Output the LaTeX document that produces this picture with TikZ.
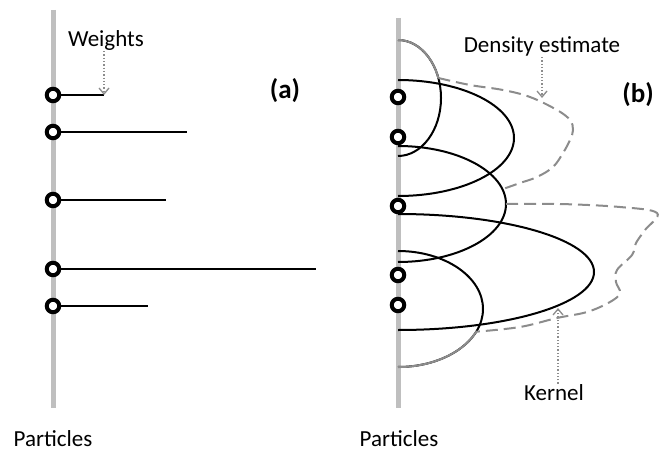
\documentclass[tikz,border=0pt]{standalone}
\usepackage{fontspec}
\setmainfont{Carlito}
\usetikzlibrary{arrows.meta}
\definecolor{bargray}{RGB}{191,191,191}
\definecolor{densgray}{RGB}{140,140,140}
\tikzset{
  particle/.style={circle, draw=black, fill=white, line width=4pt, minimum size=12.5pt, inner sep=0pt},
  axisbar/.style={bargray, line width=5pt},
  weightline/.style={line width=2pt},
  kernel/.style={line width=2pt},
  density/.style={densgray, line width=2pt, dash pattern=on 12pt off 6pt},
  callout/.style={densgray, line width=1.3pt, dotted, -{Straight Barb[length=6pt,width=10pt]}},
  lbl/.style={font=\fontsize{23}{27}\selectfont, inner sep=1pt},
  panel/.style={font=\fontsize{27}{32}\selectfont\bfseries}
}
\begin{document}
\begin{tikzpicture}[x=1pt,y=1pt]
    \useasboundingbox (0,0) rectangle (664,-452);
    % (a) particles with weights
    \draw[axisbar] (53,-10) -- (53,-408);
    \foreach \n/\y/\w in {1/95/104,2/132/187,3/200/166,4/269/316,5/306/148} {
        \coordinate (w\n) at (\w,-\y);
        \node[particle] (p\n) at (53,-\y) {};
        \draw[weightline] (p\n) -- (w\n);
    }
    \node[lbl] (weights) at (106,-40) {Weights};
    \draw[callout] (w1 |- weights.south) -- (w1);
    \node[panel] (taga) at (285,-91) {(a)};
    \node[lbl, anchor=base] (partsa) at (53,-446) {Particles};
    % (b) kernels and density estimate
    \draw[axisbar] (398,-18) -- (398,-408);
    \foreach \c/\r in {98/43,138/116,204/108,272/196,309/85}
        \draw[kernel] (398,{58-\c}) arc[start angle=90, end angle=-90, x radius=\r, y radius=58];
    \draw[densgray, line width=2pt] (398,-40) arc[start angle=90, end angle=20, x radius=43, y radius=58];
    \draw[densgray, line width=2pt] (476.2,-331.7) arc[start angle=-23, end angle=-90, x radius=85, y radius=58];
    \draw[density] plot[smooth, tension=0.6] coordinates {(438.4,-78) (470,-85) (503,-90) (530,-97) (557,-110)
        (570,-120) (573,-130) (570,-140) (563,-153) (553,-167) (537,-177) (520,-183) (503,-189)};
    \draw[density] plot[smooth, tension=0.6] coordinates {(506,-204) (560,-204) (620,-207) (657,-213)
        (645,-230) (636,-243) (632,-255) (617,-270) (616,-282) (620,-293) (610,-302) (587,-312)
        (557,-318) (520,-327) (476.2,-331.7)};
    \foreach \n/\y in {1/97,2/137,3/206,4/275,5/305}
        \node[particle] (q\n) at (398,-\y) {};
    \coordinate (dtip) at (542,-98);
    \node[lbl] (density) at (542,-46) {Density estimate};
    \draw[callout] (dtip |- density.south) -- (dtip);
    \coordinate (ktip) at (558,-308);
    \node[lbl] (kern) at (554,-393) {Kernel};
    \draw[callout] (ktip |- kern.north) -- (ktip);
    \node[panel] (tagb) at (638,-95) {(b)};
    \node[lbl, anchor=base] (partsb) at (399,-446) {Particles};
\end{tikzpicture}
\end{document}
